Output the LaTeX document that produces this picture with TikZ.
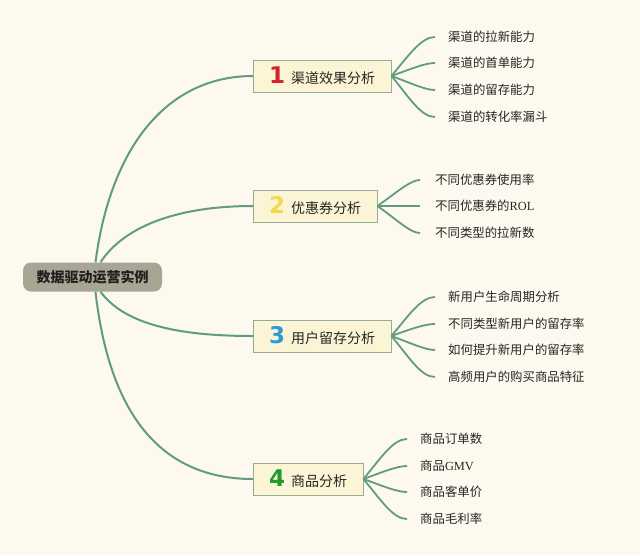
\documentclass[tikz,border=0pt]{standalone}
\usepackage{fontspec}
\setmainfont{Liberation Serif}
\newfontfamily\cjk{Noto Sans CJK SC}
\newfontfamily\numfont{DejaVu Sans}
\usetikzlibrary{positioning}
\definecolor{bgCream}{RGB}{253,249,238}
\definecolor{rootGray}{RGB}{169,165,148}
\definecolor{topicFill}{RGB}{252,245,213}
\definecolor{topicLine}{RGB}{150,172,150}
\definecolor{lineGreen}{RGB}{96,156,130}
\definecolor{numRed}{RGB}{214,35,45}
\definecolor{numYellow}{RGB}{245,215,75}
\definecolor{numBlue}{RGB}{40,155,215}
\definecolor{numGreen}{RGB}{30,155,45}
\newcommand{\topicnum}[2]{{\numfont\bfseries\fontsize{23}{23}\selectfont\textcolor{#1}{#2}}\hspace{6pt}}

\tikzset{
  rootbox/.style={rectangle, rounded corners=8pt, fill=rootGray, minimum width=139pt,
    minimum height=29pt, font=\cjk\bfseries\fontsize{14}{16}\selectfont, text=black!88},
  topic/.style={rectangle, draw=topicLine, fill=topicFill, minimum height=32pt,
    inner xsep=16pt, anchor=west, font=\cjk\fontsize{14}{16}\selectfont, text=black!85},
  leaf/.style={anchor=west, inner sep=0pt, font=\cjk\fontsize{12.4}{14}\selectfont, text=black!85},
  branch/.style={draw=lineGreen, line width=2pt},
  twig/.style={draw=lineGreen, line width=1.8pt, shorten >=13pt},
}

\begin{document}
\begin{tikzpicture}[x=1pt, y=1pt]
  \fill[bgCream] (0,0) rectangle (640,-555);
  \useasboundingbox (0,0) rectangle (640,-555);

  % root and main topics
  \node[rootbox] (root) at (92.5,-277) {数据驱动运营实例};
  \node[topic] (b1) at (253,-76) {\topicnum{numRed}{1}渠道效果分析};
  \node[topic] (b2) at (253,-206) {\topicnum{numYellow}{2}优惠券分析};
  \node[topic] (b3) at (253,-336) {\topicnum{numBlue}{3}用户留存分析};
  \node[topic] (b4) at (253,-479) {\topicnum{numGreen}{4}商品分析};

  % leaves
  \node[leaf] (l11) at (448,-37) {渠道的拉新能力};
  \node[leaf] (l12) at (448,-63) {渠道的首单能力};
  \node[leaf] (l13) at (448,-90) {渠道的留存能力};
  \node[leaf] (l14) at (448,-117) {渠道的转化率漏斗};

  \node[leaf] (l21) at (435,-180) {不同优惠券使用率};
  \node[leaf] (l22) at (435,-206) {不同优惠券的{\rmfamily ROL}};
  \node[leaf] (l23) at (435,-233) {不同类型的拉新数};

  \node[leaf] (l31) at (448,-297) {新用户生命周期分析};
  \node[leaf] (l32) at (448,-324) {不同类型新用户的留存率};
  \node[leaf] (l33) at (448,-350) {如何提升新用户的留存率};
  \node[leaf] (l34) at (448,-377) {高频用户的购买商品特征};

  \node[leaf] (l41) at (420,-439) {商品订单数};
  \node[leaf] (l42) at (420,-466) {商品{\rmfamily GMV}};
  \node[leaf] (l43) at (420,-492) {商品客单价};
  \node[leaf] (l44) at (420,-519) {商品毛利率};

  % root branches
  \draw[branch] ([xshift=3pt]root.north) .. controls (110,-150) and (165,-76) .. (b1.west);
  \draw[branch] ([xshift=8pt]root.north) .. controls (125,-225) and (180,-206) .. (b2.west);
  \draw[branch] ([xshift=8pt]root.south) .. controls (125,-325) and (180,-336) .. (b3.west);
  \draw[branch] ([xshift=3pt]root.south) .. controls (110,-420) and (165,-479) .. (b4.west);

  % twigs
  \draw[twig] (b1.east) to[out=50,in=180] (l11.west);
  \draw[twig] (b1.east) to[out=20,in=180] (l12.west);
  \draw[twig] (b1.east) to[out=-20,in=180] (l13.west);
  \draw[twig] (b1.east) to[out=-50,in=180] (l14.west);

  \draw[twig, shorten >=15pt] (b2.east) to[out=35,in=180] (l21.west);
  \draw[twig, shorten >=15pt] (b2.east) to[out=0,in=180] (l22.west);
  \draw[twig, shorten >=15pt] (b2.east) to[out=-35,in=180] (l23.west);

  \draw[twig] (b3.east) to[out=50,in=180] (l31.west);
  \draw[twig] (b3.east) to[out=20,in=180] (l32.west);
  \draw[twig] (b3.east) to[out=-20,in=180] (l33.west);
  \draw[twig] (b3.east) to[out=-50,in=180] (l34.west);

  \draw[twig] (b4.east) to[out=50,in=180] (l41.west);
  \draw[twig] (b4.east) to[out=20,in=180] (l42.west);
  \draw[twig] (b4.east) to[out=-20,in=180] (l43.west);
  \draw[twig] (b4.east) to[out=-50,in=180] (l44.west);
\end{tikzpicture}
\end{document}
